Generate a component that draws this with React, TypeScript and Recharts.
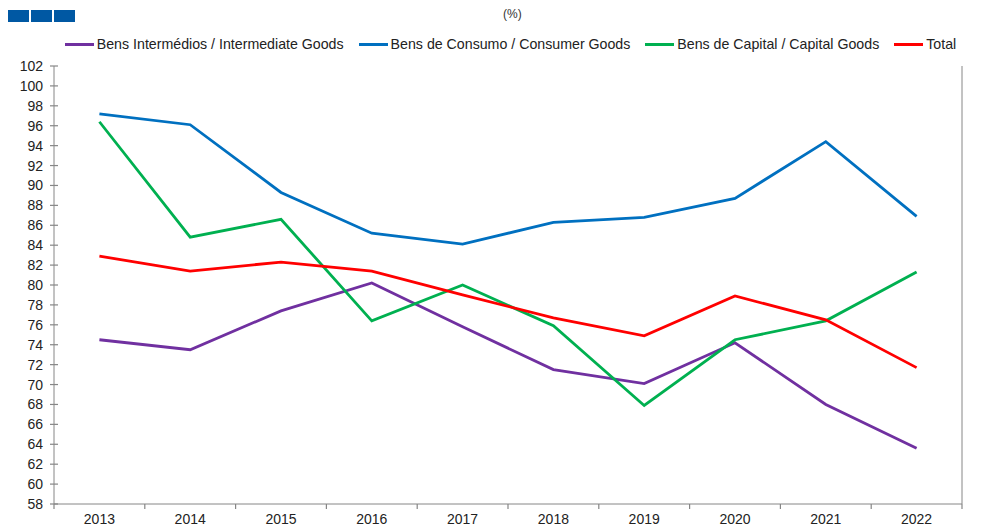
import React from "react";
import {
  LineChart,
  Line,
  XAxis,
  YAxis,
  Legend,
} from "recharts";

const years = ["2013", "2014", "2015", "2016", "2017", "2018", "2019", "2020", "2021", "2022"];
const intermediate = [74.5, 73.5, 77.4, 80.2, 75.8, 71.5, 70.1, 74.2, 68.0, 63.6];
const consumer = [97.2, 96.1, 89.3, 85.2, 84.1, 86.3, 86.8, 88.7, 94.4, 86.9];
const capital = [96.4, 84.8, 86.6, 76.4, 80.0, 75.9, 67.9, 74.5, 76.4, 81.3];
const total = [82.9, 81.4, 82.3, 81.4, 79.0, 76.7, 74.9, 78.9, 76.5, 71.7];
const yTicks = [58, 60, 62, 64, 66, 68, 70, 72, 74, 76, 78, 80, 82, 84, 86, 88, 90, 92, 94, 96, 98, 100, 102];

const series = [
  { key: "intermediate", name: "Bens Intermédios / Intermediate Goods", color: "#7030A0" },
  { key: "consumer", name: "Bens de Consumo / Consumer Goods", color: "#0070C0" },
  { key: "capital", name: "Bens de Capital / Capital Goods", color: "#00B050" },
  { key: "total", name: "Total", color: "#FF0000" },
];

const data = years.map((year, i) => ({
  year,
  intermediate: intermediate[i],
  consumer: consumer[i],
  capital: capital[i],
  total: total[i],
}));

const FONT = "'Liberation Sans', Arial, sans-serif";
const AXIS = "#868686";
const HALF_BAND = 45.4;

function LeftTick({ x, y, payload }: any) {
  return (
    <g>
      <line x1={x - 4} x2={x + 4} y1={y} y2={y} stroke={AXIS} strokeWidth={1.2} />
      <text x={x - 11} y={y} dy={5} textAnchor="end" fontSize={14} fill="#222" fontFamily={FONT}>
        {payload.value}
      </text>
    </g>
  );
}

function RightTick({ x, y, payload }: any) {
  return (
    <g>
      <line x1={x - 4} x2={x + 4} y1={y} y2={y} stroke={AXIS} strokeWidth={1.2} />
      <text x={x + 13} y={y} dy={5} textAnchor="start" fontSize={14} fill="#222" fontFamily={FONT}>
        {payload.value}
      </text>
    </g>
  );
}

function BottomTick({ x, y, payload, index }: any) {
  const last = index === years.length - 1;
  return (
    <g>
      <line x1={x - HALF_BAND} x2={x - HALF_BAND} y1={y} y2={y + 5} stroke={AXIS} strokeWidth={1.2} />
      {last && <line x1={x + HALF_BAND} x2={x + HALF_BAND} y1={y} y2={y + 5} stroke={AXIS} strokeWidth={1.2} />}
      <text x={x} y={y + 20} textAnchor="middle" fontSize={14} fill="#222" fontFamily={FONT}>
        {payload.value}
      </text>
    </g>
  );
}

function LegendContent() {
  return (
    <div style={{ display: "flex", justifyContent: "center", paddingLeft: 18, fontFamily: FONT, fontSize: 14.2, color: "#222" }}>
      {series.map((s, i) => (
        <div key={s.key} style={{ display: "flex", alignItems: "center", marginRight: i === series.length - 1 ? 0 : 15 }}>
          <span style={{ display: "inline-block", width: 29, height: 3, background: s.color, marginRight: 3 }} />
          <span>{s.name}</span>
        </div>
      ))}
    </div>
  );
}

export default function App() {
  return (
    <div style={{ position: "absolute", left: 0, top: 0, width: 1003, height: 526, background: "#fff" }}>
      <div style={{ position: "absolute", left: 8, top: 10, display: "flex", gap: 2 }}>
        <div style={{ width: 21, height: 12, background: "#0058A3" }} />
        <div style={{ width: 21, height: 12, background: "#0058A3" }} />
        <div style={{ width: 21, height: 12, background: "#0058A3" }} />
      </div>
      <div style={{ position: "absolute", left: 503, top: 7, fontFamily: FONT, fontSize: 12, color: "#333" }}>(%)</div>
      <LineChart width={1003} height={526} data={data} margin={{ top: 66, right: 0, bottom: 0, left: 0 }}>
        <XAxis
          dataKey="year"
          scale="band"
          tickLine={false}
          tickSize={0}
          tickMargin={0}
          height={22}
          stroke={AXIS}
          tick={<BottomTick />}
          interval={0}
        />
        <YAxis
          yAxisId="left"
          orientation="left"
          domain={[58, 102]}
          ticks={yTicks}
          width={54}
          tickLine={false}
          tickSize={0}
          tickMargin={0}
          stroke={AXIS}
          tick={<LeftTick />}
          interval={0}
        />
        <YAxis
          yAxisId="right"
          orientation="right"
          domain={[58, 102]}
          ticks={yTicks}
          width={41}
          tickLine={false}
          tickSize={0}
          tickMargin={0}
          stroke={AXIS}
          tick={<RightTick />}
          interval={0}
        />
        <Legend
          verticalAlign="middle"
          align="center"
          wrapperStyle={{ top: 36, left: 0, width: 1003 }}
          content={<LegendContent />}
        />
        {series.map((s) => (
          <Line
            key={s.key}
            yAxisId="left"
            type="linear"
            dataKey={s.key}
            name={s.name}
            stroke={s.color}
            strokeWidth={2.8}
            dot={false}
            activeDot={false}
            isAnimationActive={false}
          />
        ))}
      </LineChart>
    </div>
  );
}
